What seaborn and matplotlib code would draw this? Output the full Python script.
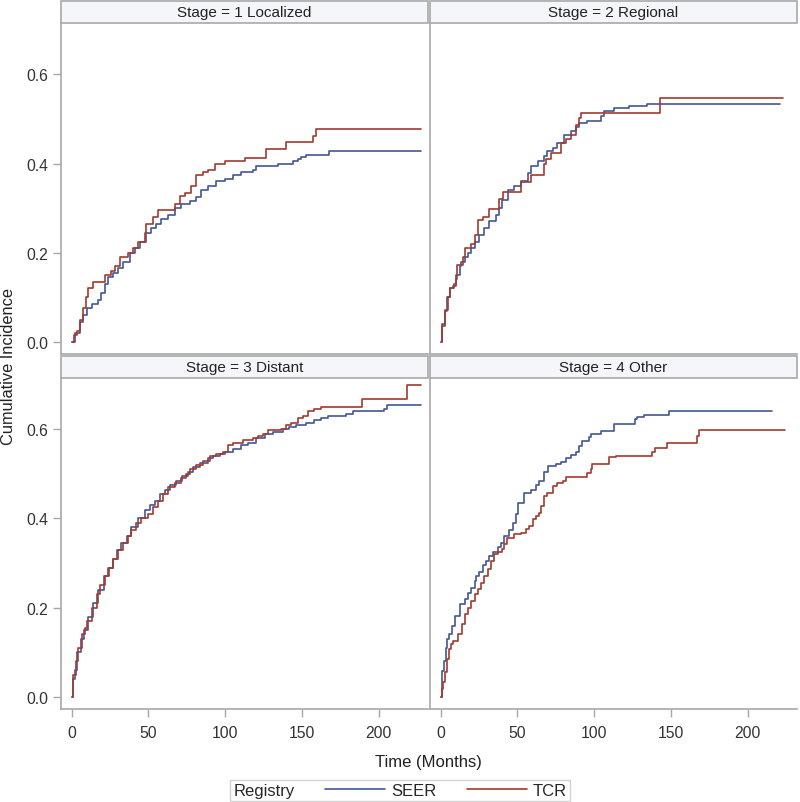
import pandas as pd
import matplotlib.pyplot as plt
from matplotlib.patches import Rectangle
from matplotlib.lines import Line2D
import seaborn as sns

sns.set_theme(style='ticks')
plt.rcParams['font.family'] = ['Liberation Sans', 'DejaVu Sans']

stages = ['1 Localized', '2 Regional', '3 Distant', '4 Other']
registries = ['SEER', 'TCR']
palette = {'SEER': '#445694', 'TCR': '#A23A2E'}

# cumulative incidence step curves (months, proportion)
loc_seer_t = [0, 2.2, 5.4, 7.6, 9.8, 13, 17.3, 19.5, 21.7, 23.8, 27.1, 30.3, 33.6, 37.9, 41.2, 44.4,
              48.8, 52, 55.3, 58.5, 62.8, 67.2, 71.5, 76.9, 81.3, 84.5, 88.8, 94.3, 99.7, 105.1, 110.5,
              118.1, 120.3, 134.3, 144.1, 147.3, 149.5, 152.8, 167.9, 227.5]
loc_seer_y = [0, 0.02, 0.045, 0.06, 0.075, 0.085, 0.095, 0.11, 0.13, 0.145, 0.155, 0.165, 0.18, 0.2, 0.21, 0.225,
              0.245, 0.255, 0.265, 0.275, 0.285, 0.3, 0.31, 0.315, 0.325, 0.34, 0.35, 0.36, 0.365, 0.375, 0.38,
              0.385, 0.395, 0.4, 0.405, 0.41, 0.415, 0.42, 0.428, 0.428]
loc_tcr_t = [0, 1.5, 3.3, 5.4, 7.6, 9.3, 10.8, 14.1, 21.7, 26, 28.2, 31.4, 36.8, 40.1, 43.3, 47.7, 48.8,
             53.1, 56.3, 67.2, 70.4, 73.7, 78, 81.3, 85.6, 88.8, 93.2, 99.7, 112.7, 126.8, 139.8, 157.1,
             159.3, 227.5]
loc_tcr_y = [0, 0.015, 0.025, 0.05, 0.077, 0.1, 0.12, 0.134, 0.15, 0.16, 0.17, 0.19, 0.2, 0.21, 0.225, 0.244, 0.265,
             0.28, 0.295, 0.31, 0.327, 0.335, 0.35, 0.374, 0.38, 0.385, 0.4, 0.405, 0.413, 0.433, 0.448, 0.461,
             0.477, 0.477]

reg_seer_t = [0, 0.9, 2.6, 3.9, 5.8, 8.6, 10.2, 12.3, 13.4, 15.6, 17.7, 19.9, 22.1, 25.3, 28.5, 31.8, 36.1,
              38.3, 39.8, 43.7, 48, 52.3, 56.7, 58.8, 63.1, 67.5, 69.6, 72.9, 76.1, 80.4, 84.8, 88, 90.2,
              95.6, 104.2, 106.4, 112.9, 122.6, 134.5, 221]
reg_seer_y = [0, 0.04, 0.07, 0.1, 0.12, 0.13, 0.15, 0.17, 0.18, 0.19, 0.2, 0.21, 0.225, 0.24, 0.255, 0.27, 0.285,
              0.3, 0.319, 0.34, 0.349, 0.36, 0.379, 0.394, 0.405, 0.416, 0.427, 0.435, 0.446, 0.465, 0.472, 0.483, 0.491,
              0.495, 0.506, 0.517, 0.525, 0.53, 0.534, 0.534]
reg_tcr_t = [0, 0.9, 3, 4.8, 5.8, 8, 10.2, 10.8, 14.5, 15.6, 19.9, 22.1, 24.2, 27.5, 31.4, 38.3, 40.4,
             52.3, 58.8, 67.5, 68.5, 71.8, 78.3, 81.5, 84.8, 88, 90.2, 91.3, 143.2, 223.2]
reg_tcr_y = [0, 0.035, 0.072, 0.1, 0.12, 0.125, 0.14, 0.172, 0.19, 0.21, 0.22, 0.24, 0.273, 0.28, 0.298, 0.32, 0.336,
             0.358, 0.375, 0.4, 0.41, 0.424, 0.446, 0.455, 0.465, 0.487, 0.502, 0.513, 0.546, 0.546]

dis_seer_t = [0, 1.1, 2.2, 3.7, 5.9, 8, 10.8, 14.1, 17.3, 21, 23.8, 26.7, 29.7, 32.5, 35.8, 39, 43.3, 47.7,
              50.9, 54.2, 57.4, 60.7, 63.9, 68.3, 72.2, 75.8, 79.1, 83.4, 88.8, 92.1, 96.4, 99.7, 105.1, 110.5,
              114.8, 120.3, 125.7, 131.1, 137.6, 141.9, 146.3, 152.8, 158.2, 162.5, 166.8, 178.8, 183.1, 203.7,
              205.8, 227.5]
dis_seer_y = [0, 0.04, 0.06, 0.1, 0.13, 0.15, 0.18, 0.21, 0.24, 0.27, 0.29, 0.31, 0.33, 0.345, 0.36, 0.38, 0.4, 0.42,
              0.43, 0.44, 0.455, 0.465, 0.475, 0.485, 0.495, 0.505, 0.515, 0.525, 0.535, 0.54, 0.545, 0.55, 0.555, 0.565,
              0.57, 0.58, 0.59, 0.595, 0.6, 0.605, 0.61, 0.615, 0.62, 0.625, 0.63, 0.635, 0.64, 0.645,
              0.655, 0.655]
dis_tcr_t = [0, 1.1, 2.8, 4.3, 6.5, 8.7, 10.2, 13, 16.3, 18.4, 21.7, 24.5, 27.1, 30.3, 33.6, 36.8, 39, 42.3,
             45.5, 49.8, 53.1, 56.3, 59.6, 62.8, 67.2, 71.5, 74.8, 76.9, 81.3, 85.6, 89.9, 94.3, 98.6, 101.8,
             105.1, 111.6, 118.1, 121.3, 124.6, 127.8, 136.5, 139.8, 143, 147.3, 150.6, 153.8, 158.2, 162.5,
             189.2, 218.2, 227.5]
dis_tcr_y = [0, 0.05, 0.08, 0.11, 0.14, 0.155, 0.17, 0.2, 0.23, 0.25, 0.27, 0.29, 0.31, 0.33, 0.345, 0.36, 0.375, 0.39,
             0.4, 0.41, 0.425, 0.44, 0.455, 0.47, 0.48, 0.49, 0.5, 0.51, 0.52, 0.53, 0.54, 0.545, 0.55, 0.565,
             0.57, 0.575, 0.58, 0.585, 0.59, 0.598, 0.6, 0.61, 0.615, 0.625, 0.63, 0.64, 0.645, 0.651,
             0.669, 0.699, 0.699]

oth_seer_t = [0, 0.9, 2.2, 3.2, 4.3, 5.4, 7.4, 9.1, 12.3, 15.6, 17.7, 19.9, 22.1, 23.1, 25.3, 27.5, 29.6, 31.8,
              33.9, 37.2, 39.4, 41.5, 44.8, 46.9, 49.1, 50.2, 54.5, 58.8, 62.1, 64.2, 67.5, 70.1, 75, 78.3, 81.5,
              84.8, 88, 90.2, 92.3, 96.7, 97.7, 104.2, 112.9, 126.3, 128, 132.3, 149, 215.6]
oth_seer_y = [0, 0.058, 0.08, 0.11, 0.13, 0.14, 0.159, 0.182, 0.208, 0.22, 0.232, 0.245, 0.26, 0.271, 0.28, 0.295, 0.305, 0.315,
              0.325, 0.335, 0.345, 0.36, 0.375, 0.39, 0.41, 0.435, 0.458, 0.465, 0.475, 0.485, 0.505, 0.518, 0.522, 0.527, 0.535,
              0.542, 0.55, 0.563, 0.574, 0.583, 0.589, 0.597, 0.611, 0.623, 0.627, 0.632, 0.64, 0.64]
oth_tcr_t = [0, 0.9, 1.5, 3, 4.3, 5.4, 6.5, 8, 11.2, 14.1, 15.6, 17.7, 19.9, 22.1, 24.2, 26.4, 28.5, 30.7, 32.9,
             35, 37.2, 39.8, 41.1, 43.2, 48, 52.3, 55.6, 57.7, 59.9, 62.1, 64.2, 65.3, 67, 69.2, 72.9, 76.1, 79.4,
             81.5, 95.6, 97.7, 98.8, 109.6, 114, 137.7, 139.9, 147.5, 166.9, 168.5, 224.2]
oth_tcr_y = [0, 0.017, 0.034, 0.055, 0.084, 0.107, 0.118, 0.126, 0.14, 0.163, 0.185, 0.2, 0.215, 0.23, 0.241, 0.256, 0.271, 0.286, 0.305,
             0.32, 0.324, 0.331, 0.342, 0.357, 0.365, 0.368, 0.376, 0.383, 0.398, 0.406, 0.413, 0.428, 0.451, 0.458, 0.473, 0.48, 0.484,
             0.492, 0.503, 0.51, 0.522, 0.537, 0.54, 0.548, 0.559, 0.57, 0.585, 0.599, 0.599]

curves = {
    ('1 Localized', 'SEER'): (loc_seer_t, loc_seer_y),
    ('1 Localized', 'TCR'): (loc_tcr_t, loc_tcr_y),
    ('2 Regional', 'SEER'): (reg_seer_t, reg_seer_y),
    ('2 Regional', 'TCR'): (reg_tcr_t, reg_tcr_y),
    ('3 Distant', 'SEER'): (dis_seer_t, dis_seer_y),
    ('3 Distant', 'TCR'): (dis_tcr_t, dis_tcr_y),
    ('4 Other', 'SEER'): (oth_seer_t, oth_seer_y),
    ('4 Other', 'TCR'): (oth_tcr_t, oth_tcr_y),
}

frames = []
for (stage, reg), (t, y) in curves.items():
    frames.append(pd.DataFrame({'Stage': stage, 'Registry': reg, 'Time': t, 'CumInc': y}))
df = pd.concat(frames, ignore_index=True)

frame_col = '#A8A8A8'

g = sns.FacetGrid(df, col='Stage', col_order=stages, col_wrap=2, sharex=True, sharey=True,
                  height=4, aspect=1)
g.map_dataframe(sns.lineplot, x='Time', y='CumInc', hue='Registry', hue_order=registries,
                palette=palette, drawstyle='steps-post', estimator=None, linewidth=1.2, legend=False)
g.figure.set_size_inches(8, 8.03)
g.figure.subplots_adjust(left=0.076, right=0.996, top=0.970, bottom=0.116, wspace=0.006, hspace=0.073)
g.set(xlim=(-7, 232), ylim=(-0.027, 0.715), xticks=[0, 50, 100, 150, 200], yticks=[0, 0.2, 0.4, 0.6])
g.set_axis_labels('', '')
g.set_titles('')

strip_h = 22 / 330
for i, (ax, stage) in enumerate(zip(g.axes.flat, stages)):
    for sp in ax.spines.values():
        sp.set_color(frame_col)
        sp.set_linewidth(1.2)
    ax.tick_params(direction='out', length=5.5, width=1, color=frame_col, labelsize=11.3,
                   labelcolor='#333333')
    ax.tick_params(axis='x', pad=6)
    ax.tick_params(axis='y', pad=3.5)
    if i < 2:
        ax.tick_params(bottom=False)
    if i % 2 == 1:
        ax.tick_params(left=False)
    ax.yaxis.set_major_formatter(plt.FormatStrFormatter('%.1f'))
    ax.add_patch(Rectangle((0, 1), 1, strip_h, transform=ax.transAxes, clip_on=False,
                           facecolor='#F5F6FA', edgecolor=frame_col, linewidth=1.2))
    ax.text(0.5, 1 + strip_h / 2, f'Stage = {stage}', transform=ax.transAxes,
            ha='center', va='center', fontsize=11, color='#222222')

fig = g.figure
fig.text(0.011, 0.543, 'Cumulative Incidence', rotation=90, ha='center', va='center',
         fontsize=11.8, color='#222222')
fig.text(0.536, 0.051, 'Time (Months)', ha='center', va='center', fontsize=12, color='#222222')

handles = [Line2D([], [], color=palette[r], linewidth=1.2) for r in registries]
leg = fig.legend(handles, registries, title='Registry', ncol=2, loc='center',
                 bbox_to_anchor=(0.5, 0.0145), frameon=True, fancybox=False, fontsize=12,
                 title_fontsize=12, handlelength=3.6, columnspacing=1.3, handletextpad=0.35,
                 borderpad=0.2, borderaxespad=0, edgecolor='#C8C8C8')
leg.get_frame().set_linewidth(1)
# put the legend title to the left of the entries
box = leg.get_children()[0]
title_box = box.get_children()[0]
entries = box.get_children()[1]
box._children = [entries]
entries._children.insert(0, title_box)
entries.sep = 22

plt.savefig('out.png', dpi=100)
